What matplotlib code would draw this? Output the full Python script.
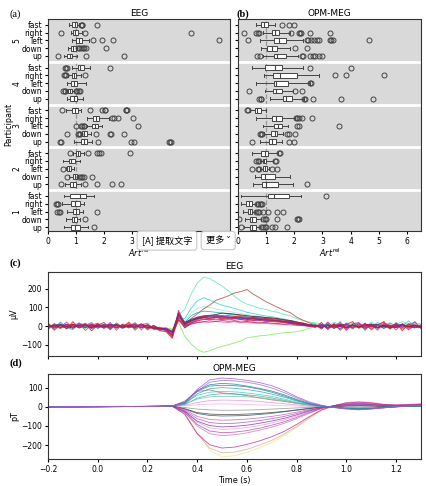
import matplotlib
matplotlib.use("Agg")
import matplotlib.pyplot as plt
import matplotlib.transforms as mtransforms

CONDITIONS = ["up", "down", "left", "right", "fast"]
PARTICIPANTS = [1, 2, 3, 4, 5]

# ---- relative artefact, EEG: order P1(up,down,left,right,fast) ... P5
EEG_LO = [0.57, 0.63, 0.67, 0.51, 0.57,
          0.60, 0.75, 0.63, 0.55, 0.90,
          0.93, 1.17, 1.38, 1.40, 0.63,
          0.67, 0.66, 0.69, 0.72, 0.87,
          0.57, 0.71, 0.87, 0.81, 0.75]
EEG_Q1 = [0.83, 0.87, 0.90, 0.83, 0.79,
          0.79, 0.90, 0.67, 0.75, 1.01,
          1.17, 1.23, 1.58, 1.62, 0.87,
          0.79, 0.71, 0.83, 0.86, 1.08,
          0.69, 0.81, 1.01, 0.90, 0.87]
EEG_MED = [0.95, 0.94, 1.00, 0.98, 1.14,
           0.88, 0.95, 0.74, 0.83, 1.06,
           1.27, 1.30, 1.68, 1.73, 0.96,
           0.93, 0.80, 0.93, 0.92, 1.15,
           0.78, 0.90, 1.10, 0.97, 0.95]
EEG_Q3 = [1.13, 1.02, 1.10, 1.13, 1.35,
          0.99, 1.02, 0.81, 0.95, 1.15,
          1.40, 1.38, 1.79, 1.82, 1.07,
          1.05, 0.87, 1.05, 1.01, 1.29,
          0.87, 0.99, 1.23, 1.07, 1.02]
EEG_HI = [1.43, 1.15, 1.26, 1.29, 1.64,
          1.17, 1.08, 0.93, 1.14, 1.29,
          1.58, 1.52, 1.94, 2.18, 1.17,
          1.26, 0.93, 1.35, 1.19, 1.50,
          1.05, 1.02, 1.46, 1.23, 1.10]
EEG_FLIERS = [[1.64], [1.31], [0.31, 0.39, 0.42, 1.76], [0.27, 0.32, 0.36], [],
              [0.48, 1.31, 1.74, 2.30, 2.62], [0.67, 1.12, 1.18, 1.22, 1.27, 1.56], [0.54], [],
              [0.79, 1.43, 1.76, 1.82, 1.88, 2.93],
              [0.43, 0.46, 1.79, 2.95, 3.07, 4.32, 4.35, 4.38],
              [0.67, 1.08, 1.12, 1.14, 1.72, 2.21, 2.24, 2.73],
              [0.99, 1.19, 1.23, 1.27, 1.30, 3.21], [2.30, 2.36, 2.50, 3.05],
              [0.51, 1.50, 1.94, 2.02, 2.05, 2.77, 2.80, 2.82],
              [], [0.55, 0.59, 0.62, 1.00, 1.05, 1.12, 1.15], [], [0.57, 0.61, 0.64, 1.31],
              [0.60, 0.64, 0.68, 2.20],
              [0.36, 1.35, 2.71], [1.06, 1.12, 1.18, 1.24, 1.30, 1.35, 2.06],
              [1.60, 1.94, 2.32, 6.10], [0.48, 1.31, 5.10], [1.17, 1.20, 1.23, 1.76]]

# ---- relative artefact, OPM-MEG
MEG_LO = [0.20, 0.24, 0.18, 0.12, 0.10,
          0.54, 0.62, 0.78, 0.78, 0.50,
          0.77, 0.93, 0.87, 0.63, 0.42,
          1.13, 0.95, 0.65, 0.93, 0.48,
          0.87, 0.83, 0.77, 0.89, 0.65]
MEG_Q1 = [0.42, 0.42, 0.36, 0.30, 1.07,
          0.86, 0.80, 0.87, 0.87, 0.83,
          1.10, 1.17, 1.27, 1.19, 0.60,
          1.60, 1.25, 1.27, 1.25, 0.95,
          1.29, 1.04, 1.27, 1.19, 0.80]
MEG_MED = [0.50, 0.50, 0.43, 0.38, 1.27,
           1.00, 0.95, 0.95, 0.93, 0.95,
           1.20, 1.30, 1.42, 1.35, 0.69,
           1.70, 1.35, 1.35, 1.50, 1.30,
           1.40, 1.20, 1.45, 1.30, 0.93]
MEG_Q3 = [0.63, 0.65, 0.51, 0.48, 1.82,
          1.43, 1.31, 1.04, 0.99, 1.07,
          1.35, 1.37, 1.57, 1.55, 0.80,
          1.90, 1.57, 1.79, 2.10, 1.58,
          1.70, 1.37, 1.70, 1.46, 1.07]
MEG_HI = [0.77, 0.83, 0.62, 0.65, 2.24,
          1.96, 1.85, 1.10, 1.25, 1.43,
          1.55, 1.60, 1.79, 2.02, 0.99,
          2.34, 1.96, 2.56, 2.86, 2.32,
          2.14, 1.85, 2.32, 1.85, 1.30]
MEG_FLIERS = [[0.12, 0.83, 0.90, 0.97, 1.00, 1.19, 1.31, 1.75],
              [0.04, 0.89, 0.95, 1.00, 1.40, 2.08, 2.12, 2.15],
              [0.65, 0.70, 0.73, 0.89, 1.07, 1.37, 1.61],
              [0.68, 0.72, 0.77, 0.82, 0.85], [3.12],
              [2.46], [], [0.50, 0.71, 0.75, 1.19, 1.37], [0.65, 0.70, 0.75, 1.30, 1.35], [1.46, 1.50],
              [0.50, 1.81, 1.99], [0.77, 0.80, 0.85, 1.73, 1.80, 2.02], [2.10, 2.15, 3.57],
              [2.06, 2.10, 2.15, 2.26, 2.62], [0.32, 0.36],
              [0.75, 0.80, 0.83, 2.36, 2.38, 2.68, 3.67, 4.80], [0.38, 2.03, 2.26], [2.57, 2.60],
              [3.45, 3.85, 5.18], [2.56, 4.01],
              [0.69, 0.77, 2.26, 2.30, 2.55, 2.65, 2.75, 2.87, 3.00], [2.02, 2.44],
              [0.36, 2.44, 2.50, 2.60, 2.70, 2.82, 2.86, 3.27, 3.32, 3.37, 4.64],
              [0.21, 0.65, 0.70, 0.75, 1.87, 2.15, 2.20, 2.22, 2.56, 3.27], [1.55, 1.82, 2.00]]

# ---- evoked EEG traces (uV), sampled every 25 ms
T_EEG = [-0.2, -0.175, -0.15, -0.125, -0.1, -0.075, -0.05, -0.025, 0.0, 0.025,
         0.05, 0.075, 0.1, 0.125, 0.15, 0.175, 0.2, 0.225, 0.25, 0.275,
         0.3, 0.325, 0.35, 0.375, 0.4, 0.425, 0.45, 0.475, 0.5, 0.525,
         0.55, 0.575, 0.6, 0.625, 0.65, 0.675, 0.7, 0.725, 0.75, 0.775,
         0.8, 0.825, 0.85, 0.875, 0.9, 0.925, 0.95, 0.975, 1.0, 1.025,
         1.05, 1.075, 1.1, 1.125, 1.15, 1.175, 1.2, 1.225, 1.25, 1.275, 1.3]
EEG_CH = [
    [5, -8, 10, -4, 12, -6, 3, 15, -10, 6, -3, 14, -7, 8, 18, -5, 4, -12, -8, -15,
     -35, 60, 90, 170, 230, 262, 255, 235, 215, 190, 160, 135, 118, 108, 96, 90, 80, 74, 62, 55, 40, 30, 22, 18,
     12, -5, 20, 8, -10, 15, 3, -8, 22, 5, 14, -6, 10, 25, 8, 16, 12],
    [-6, 12, -3, 8, -12, 5, 16, -4, 7, -9, 11, 2, -5, 13, -8, 9, -14, 4, -18, -10,
     -25, 45, 40, 95, 135, 152, 140, 125, 112, 104, 95, 85, 74, 68, 60, 55, 50, 44, 38, 30, 24, 15, 10, 6,
     -8, 14, 2, -12, 18, 6, -4, 12, -10, 20, 4, -7, 15, 2, 28, -5, 10],
    [4, -6, 8, 13, -8, 2, -5, 9, -2, 12, -7, 4, -10, 6, 11, -4, 8, -6, -10, -12,
     -20, 50, 30, 70, 95, 105, 100, 92, 85, 80, 72, 68, 60, 58, 52, 48, 44, 40, 34, 30, 22, 15, 10, 5,
     10, -4, 16, 2, -8, 12, 6, -3, 14, -2, 8, 18, -5, 10, 4, 20, 6],
    [8, -4, -12, 6, 3, -9, 12, -2, -7, 10, -5, 8, -11, 4, 9, -6, -3, -15, -10, -20,
     -40, 30, 15, 40, 65, 92, 112, 138, 150, 162, 178, 185, 196, 172, 152, 132, 116, 100, 84, 72, 48, 32, 18, 8,
     -5, 10, -12, 4, 8, -15, 6, -3, 12, -8, 5, -14, 2, 9, -10, -4, -6],
    [-3, 10, -8, 4, 14, -5, -12, 7, 2, -10, 9, -4, 6, -7, 12, 3, -9, -6, -14, -10,
     -15, 20, -55, -95, -125, -140, -132, -118, -108, -100, -90, -80, -62, -58, -52, -50, -44, -40, -35, -33, -30, -22, -12, -5,
     6, -10, 12, 3, -6, 18, -2, 8, -12, 4, 10, -8, 6, -3, 14, 2, -5],
    [-5, 9, 2, -8, 6, 14, -3, 5, -9, 3, 12, -6, 8, -3, 5, -10, 6, -9, -6, -14,
     -30, 45, 20, 55, 72, 80, 78, 74, 70, 64, 60, 56, 50, 48, 44, 40, 36, 32, 28, 24, 16, 10, 6, 2,
     5, 12, -6, 8, 3, -10, 14, 4, -5, 10, -3, 16, 2, -8, 12, 6, 2],
    [12, -16, 22, -8, -18, 16, 4, 20, -14, 10, -20, 18, -6, 14, -22, 8, 16, -20, -10, -28,
     -40, 55, 10, 30, 42, 48, 44, 50, 46, 40, 44, 38, 42, 34, 36, 30, 28, 26, 22, 18, 14, 10, 6, 12,
     -14, 20, -6, 24, -18, 10, 16, -22, 12, -8, 26, -12, 18, -16, 8, 22, -10],
    [2, -6, 9, -3, -10, 6, 4, -8, 11, -2, 5, -9, 3, 8, -5, 12, -7, 2, -12, -18,
     -30, 70, 20, 35, 48, 55, 58, 62, 70, 68, 64, 60, 56, 52, 50, 46, 44, 40, 34, 30, 22, 15, 8, 2,
     -6, 8, -10, 4, 12, -5, 2, -12, 6, 9, -4, 3, -9, 7, -2, 5, -8],
    [-8, 4, 12, -10, 6, -3, 9, -14, 3, 7, -6, 10, -12, 5, -4, 8, -2, -10, -22, -15,
     -45, 55, 5, 25, 38, 45, 42, 48, 46, 44, 40, 42, 36, 34, 38, 30, 28, 26, 20, 16, 12, 8, 4, -2,
     10, -6, 4, -14, 8, 2, -9, 13, -4, 6, -11, 3, 9, -7, 5, -3, 1],
    [10, -5, 3, -9, 8, -2, 6, 11, -7, 2, -4, 7, -9, 12, -6, 3, -2, -9, -20, -12,
     -40, 30, -5, 10, 18, 22, 20, 25, 22, 20, 24, 18, 20, 16, 15, 14, 12, 10, 9, 6, 4, 2, -2, -6,
     4, -10, 7, -3, 12, -8, 2, 6, -14, 3, 9, -6, 1, -12, 5, 8, -4],
    [-20, 14, -6, 22, -12, 18, -24, 6, 16, -14, 20, -22, 12, -4, 18, -20, 10, -14, -22, -18,
     -48, 50, -8, 18, 30, 38, 34, 44, 40, 36, 46, 34, 40, 30, 36, 28, 32, 24, 26, 18, 14, 8, -2, 4,
     -16, 22, -10, 18, -24, 12, 20, -18, 8, -22, 16, 6, -20, 14, -12, 24, -14],
    [6, -10, 3, 8, -5, 11, -8, 2, -4, 9, -12, 6, 1, -7, 10, -3, 5, -14, -10, -25,
     -55, 85, 10, 30, 42, 50, 54, 52, 56, 50, 48, 46, 44, 40, 42, 36, 34, 30, 26, 22, 16, 10, 6, 0,
     -4, 7, -12, 10, -3, 5, -8, 2, 11, -6, 4, -10, 8, -2, 6, -9, 3],
    [-7, 3, 6, -4, 10, -9, 2, 7, -3, -6, 9, 4, -8, 2, -5, 9, -10, -4, -15, -12,
     -35, 65, 8, 28, 40, 46, 50, 48, 52, 47, 45, 44, 40, 42, 36, 34, 32, 28, 24, 20, 14, 8, 4, 0,
     3, -6, 9, -2, -8, 7, -4, 11, 2, -7, 5, -9, 4, 8, -3, 6, -5],
    [18, -22, 8, -15, 24, -10, 14, -25, 6, 20, -18, 10, -8, 22, -16, 12, -20, 5, -25, -30,
     -65, 75, 0, 20, 35, 45, 40, 52, 38, 48, 42, 50, 36, 44, 30, 40, 28, 32, 22, 26, 12, 18, 4, -6,
     20, -18, 14, -22, 10, 24, -12, 16, -20, 8, 22, -15, 18, -25, 12, -10, 6],
    [-4, 7, -11, 2, 9, -6, 5, -3, 12, -8, 3, -5, 8, -10, 2, 6, -12, -8, -16, -20,
     -60, 40, -10, 15, 28, 35, 38, 34, 36, 40, 32, 35, 30, 28, 32, 25, 24, 22, 18, 14, 10, 5, 2, -4,
     6, -8, 3, 10, -12, 4, -5, 9, -2, -10, 7, 1, -6, 12, -4, -8, -3],
    [9, -3, 4, -12, 6, 2, -9, 10, -5, 4, 8, -11, 5, -2, -8, 10, 3, -6, -12, -10,
     -28, 35, 0, 12, 20, 24, 28, 25, 30, 26, 28, 22, 25, 20, 18, 20, 15, 14, 10, 12, 6, 4, 0, -3,
     8, -15, 5, -4, 9, -10, 12, -6, 3, 7, -12, 5, -3, 10, -20, 4, -7],
    [-2, 5, -7, 10, -4, 3, 8, -10, 6, -3, -6, 9, -4, 2, 7, -9, 4, -11, -14, -20,
     -50, 60, 15, 32, 45, 52, 55, 58, 54, 56, 52, 50, 48, 46, 44, 42, 40, 36, 32, 28, 20, 14, 6, 2,
     -8, 4, -3, 8, -10, 6, -5, 2, 9, -12, 5, -2, -8, 6, -4, 3, -10],
]
EEG_COLORS = ["#5fe8c4", "#3fcfd0", "#9fe6ea", "#b5523b", "#7cf05a", "#1fb0c0",
              "#20a898", "#222222", "#3060e0", "#ff5aa0", "#e8308a", "#7b3fd0",
              "#2030c0", "#e02020", "#d6204a", "#c8157e", "#b01c2a"]

# ---- evoked OPM-MEG traces (pT), sampled every 50 ms
T_MEG = [-0.2, -0.15, -0.1, -0.05, 0.0, 0.05, 0.1, 0.15, 0.2, 0.25, 0.3,
         0.35, 0.4, 0.45, 0.5, 0.55, 0.6, 0.65, 0.7, 0.75, 0.8,
         0.85, 0.9, 0.95, 1.0, 1.05, 1.1, 1.15, 1.2, 1.25, 1.3]
MEG_CH = [
    [0, 0, 1, 0, 1, 1, 1, 1, 2, 2, 3, -30, -135, -225, -262, -255, -238, -214, -186, -150, -108, -62, -20, 5, 22, 28, 24, 14, 10, 13, 16],
    [0, 0, 1, 0, 1, 1, 1, 1, 2, 2, 3, -35, -140, -215, -240, -236, -222, -200, -175, -142, -102, -58, -18, 6, 22, 26, 22, 13, 10, 12, 15],
    [0, 1, 0, 1, 0, 1, 1, 2, 2, 3, 3, -30, -100, -140, -150, -146, -136, -122, -106, -86, -62, -34, -10, 6, 16, 20, 16, 10, 8, 10, 12],
    [0, 0, 1, 1, 0, 1, 1, 1, 2, 2, 3, -22, -80, -110, -118, -115, -108, -98, -84, -68, -48, -26, -7, 5, 13, 16, 13, 8, 6, 8, 10],
    [0, 0, 0, 0, 1, 0, 1, 1, 1, 1, 2, 5, 10, 14, 15, 14, 12, 10, 8, 6, 4, 2, 0, -1, -2, -2, -2, -1, 0, 1, 2],
    [0, 0, 0, 1, 0, 1, 1, 1, 1, 2, 2, 8, 22, 32, 35, 34, 32, 28, 22, 16, 10, 4, 1, -1, -3, -4, -3, -1, 0, 2, 3],
    [0, 0, 0, 1, 1, 1, 1, 2, 2, 3, 4, 30, 80, 88, 72, 68, 58, 46, 36, 28, 18, 10, 2, -2, -6, -8, -6, -2, 0, 3, 5],
    [0, 1, 1, 0, 0, 1, 1, 2, 2, 2, 3, 20, 60, 76, 80, 78, 72, 64, 54, 40, 24, 12, 3, -2, -6, -8, -6, -2, 1, 3, 5],
    [0, 0, 1, 0, 1, 0, 1, 1, 2, 2, 3, 12, 45, 62, 68, 66, 62, 56, 46, 34, 20, 10, 2, -2, -5, -7, -5, -2, 1, 2, 4],
    [1, 0, 0, 1, 0, 1, 1, 1, 2, 2, 3, 14, 40, 52, 55, 54, 52, 48, 40, 30, 18, 8, 2, -1, -4, -6, -4, -1, 1, 2, 4],
    [0, 0, 0, 0, 0, 1, 1, 1, 1, 2, 2, -4, -12, -16, -18, -18, -17, -15, -12, -9, -6, -3, -1, 1, 2, 3, 2, 1, 1, 2, 3],
    [0, 1, 0, 0, 1, 1, 1, 2, 2, 2, 3, -10, -30, -38, -40, -40, -38, -35, -30, -24, -16, -8, -2, 2, 5, 6, 5, 3, 2, 3, 5],
    [1, 0, 0, 1, 0, 1, 2, 1, 2, 2, 3, -12, -35, -45, -48, -47, -45, -40, -34, -26, -18, -10, -3, 2, 6, 8, 6, 3, 3, 4, 6],
    [0, 0, 1, 0, 1, 1, 1, 2, 1, 2, 3, -15, -50, -66, -70, -68, -64, -58, -50, -40, -28, -15, -4, 3, 8, 10, 8, 5, 4, 5, 7],
    [0, 1, 0, 0, 1, 0, 1, 1, 2, 2, 3, -20, -62, -82, -88, -86, -80, -72, -62, -50, -35, -18, -5, 4, 10, 12, 10, 6, 5, 6, 8],
    [0, 0, 0, 1, 1, 1, 1, 2, 2, 3, 3, -25, -75, -98, -105, -102, -96, -86, -74, -60, -42, -22, -6, 5, 12, 15, 12, 8, 6, 8, 10],
    [1, 0, 0, 0, 1, 1, 2, 1, 2, 2, 3, -28, -92, -126, -135, -132, -124, -112, -96, -78, -55, -30, -8, 6, 15, 18, 15, 9, 7, 9, 11],
    [0, 0, 0, 1, 1, 1, 1, 2, 2, 2, 3, -40, -140, -198, -215, -210, -196, -178, -156, -128, -92, -52, -16, 6, 20, 24, 20, 12, 9, 11, 14],
    [1, 1, 0, 0, 1, 1, 2, 2, 2, 3, 4, 15, 68, 94, 100, 96, 90, 80, 66, 50, 30, 14, 3, -2, -8, -10, -8, -3, 1, 3, 5],
    [0, 0, 1, 1, 0, 2, 1, 2, 3, 3, 5, 25, 82, 108, 112, 110, 104, 92, 76, 56, 34, 16, 4, -3, -10, -12, -10, -5, 0, 4, 6],
    [0, 1, 0, 0, 1, 1, 2, 1, 2, 3, 4, 22, 85, 115, 122, 118, 108, 96, 82, 62, 38, 18, 4, -3, -8, -12, -9, -4, 0, 3, 6],
    [1, 0, 0, 1, 0, 1, 2, 2, 2, 2, 4, 18, 80, 128, 138, 135, 128, 116, 98, 74, 46, 22, 6, -4, -10, -14, -11, -5, 1, 4, 7],
    [0, 0, 1, 0, 1, 1, 3, 1, 2, 3, 5, 20, 90, 140, 150, 146, 138, 126, 110, 84, 52, 26, 8, -4, -12, -16, -12, -6, 0, 5, 8],
]
MEG_COLORS = ["#f5e27a", "#d8a8a0", "#d070c0", "#d8a0e0", "#f0b0e8", "#e090d8",
              "#a86a50", "#40c8c0", "#4aa8a8", "#60c8a8", "#909090", "#404040",
              "#305858", "#c060c0", "#b050c8", "#8030a0", "#c040b0", "#c02890",
              "#20b0a0", "#5060c0", "#108888", "#9070d0", "#b050d0"]

BOX_GREY = "#444444"
TICK_FS = 5.5
LABEL_FS = 5.8
TITLE_FS = 6.5


def draw_boxes(ax, lo, q1, med, q3, hi, fliers):
    stats = []
    for k in range(len(med)):
        stats.append(dict(whislo=lo[k], q1=q1[k], med=med[k], q3=q3[k],
                          whishi=hi[k], fliers=fliers[k]))
    pos = [p * 5.5 + c for p in range(len(PARTICIPANTS)) for c in range(len(CONDITIONS))]
    ax.set_facecolor("#d9d9d9")
    ax.axvline(1, color="#999999", ls="--", lw=0.9, zorder=1)
    ax.bxp(stats, positions=pos, widths=0.62, vert=False, patch_artist=True,
           capwidths=0.35,
           boxprops=dict(facecolor="white", edgecolor=BOX_GREY, lw=0.7),
           medianprops=dict(color=BOX_GREY, lw=0.8),
           whiskerprops=dict(color=BOX_GREY, lw=0.7),
           capprops=dict(color=BOX_GREY, lw=0.7),
           flierprops=dict(marker="o", mfc="none", mec=BOX_GREY, ms=3.6, mew=0.7))
    for p in range(len(PARTICIPANTS) - 1):
        ax.axhline(p * 5.5 + 4.75, color="white", lw=2, zorder=2)
    ax.set_ylim(-0.5, 26.75)
    ax.set_xlim(0, 6.5)
    ax.set_xticks([0, 1, 2, 3, 4, 5, 6])
    ax.set_yticks(pos)
    ax.set_yticklabels(CONDITIONS * len(PARTICIPANTS))
    ax.tick_params(labelsize=TICK_FS, length=2.5, pad=1.5)
    ax.set_xlabel(r"$Art^{\mathrm{rel}}$", fontsize=LABEL_FS, labelpad=1)
    for s in ax.spines.values():
        s.set_color("#333333")
    return pos


fig = plt.figure(figsize=(4.27, 4.86), dpi=100)

ax_a = fig.add_axes([0.1124, 0.5247, 0.4262, 0.4362])
ax_b = fig.add_axes([0.5574, 0.5247, 0.4286, 0.4362])
draw_boxes(ax_a, EEG_LO, EEG_Q1, EEG_MED, EEG_Q3, EEG_HI, EEG_FLIERS)
draw_boxes(ax_b, MEG_LO, MEG_Q1, MEG_MED, MEG_Q3, MEG_HI, MEG_FLIERS)
ax_b.set_yticklabels([])
ax_a.set_title("EEG", fontsize=TITLE_FS, pad=2.5)
ax_b.set_title("OPM-MEG", fontsize=TITLE_FS, pad=2.5)

tr = mtransforms.blended_transform_factory(fig.transFigure, ax_a.transData)
for p, num in enumerate(PARTICIPANTS):
    ax_a.text(0.04, p * 5.5 + 2, str(num), transform=tr, rotation=90,
              ha="center", va="center", fontsize=TICK_FS)
fig.text(0.02, 0.743, "Participant", rotation=90, ha="center", va="center", fontsize=LABEL_FS)

ax_c = fig.add_axes([0.1124, 0.2675, 0.8736, 0.1728])
ax_d = fig.add_axes([0.1124, 0.0556, 0.8736, 0.1749], sharex=ax_c)
for ch, col in zip(EEG_CH, EEG_COLORS):
    ax_c.plot(T_EEG, ch, color=col, lw=0.65, alpha=0.85)
for ch, col in zip(MEG_CH, MEG_COLORS):
    ax_d.plot(T_MEG, ch, color=col, lw=0.6, alpha=0.8)

ax_c.set_xlim(-0.2, 1.3)
ax_c.set_ylim(-160, 290)
ax_c.set_yticks([-100, 0, 100, 200])
ax_d.set_ylim(-272, 171)
ax_d.set_yticks([-200, -100, 0, 100])
ax_d.set_xticks([-0.2, 0.0, 0.2, 0.4, 0.6, 0.8, 1.0, 1.2])
ax_c.tick_params(labelbottom=False)
for ax in (ax_c, ax_d):
    ax.tick_params(labelsize=TICK_FS, length=2.5, pad=1.5)
    for s in ax.spines.values():
        s.set_color("#333333")
ax_c.set_title("EEG", fontsize=TITLE_FS, pad=2.5)
ax_d.set_title("OPM-MEG", fontsize=TITLE_FS, pad=2.5)
ax_c.set_ylabel("µV", fontsize=LABEL_FS, labelpad=2)
ax_d.set_ylabel("pT", fontsize=LABEL_FS, labelpad=2)
ax_d.set_xlabel("Time (s)", fontsize=LABEL_FS, labelpad=2)

serif = ["Liberation Serif", "DejaVu Serif"]
fig.text(0.023, 0.971, "(a)", family=serif, fontsize=7.5, va="center")
fig.text(0.553, 0.971, "(b)", family=serif, fontsize=7.5, va="center", weight="bold")
fig.text(0.023, 0.459, "(c)", family=serif, fontsize=7.5, va="center", weight="bold")
fig.text(0.023, 0.253, "(d)", family=serif, fontsize=7.5, va="center", weight="bold")

# screenshot overlay buttons sitting on the x-axis label of panel (a)
cjk = ["Noto Sans CJK SC", "DejaVu Sans"]
btn = dict(boxstyle="round,pad=0.5,rounding_size=0.3", fc="white", ec="#c8c8c8", lw=0.8)
fig.text(0.391, 0.505, "[A] 提取文字", family=cjk, fontsize=6.6, ha="center", va="center", bbox=btn)
fig.text(0.511, 0.505, "更多 ˅", family=cjk, fontsize=6.6, ha="center", va="center", bbox=btn)

fig.savefig("out.png", dpi=100)
